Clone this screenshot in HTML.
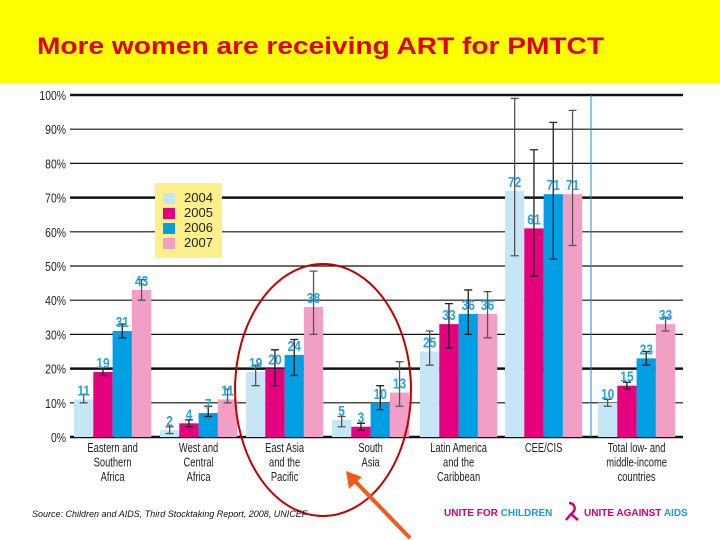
<!DOCTYPE html>
<html><head><meta charset="utf-8"><style>
html,body{margin:0;padding:0;background:#fff}
svg{display:block}
text{font-family:"Liberation Sans",Arial,sans-serif}
</style></head><body>
<svg id="chart" width="720" height="540" viewBox="0 0 720 540" xmlns="http://www.w3.org/2000/svg">
<rect x="0" y="0" width="720" height="83" fill="#ffff00"/>
<text x="37" y="54" font-size="24" font-weight="bold" fill="#e00000" textLength="567" lengthAdjust="spacingAndGlyphs">More women are receiving ART for PMTCT</text>
<g id="grid"></g>
<g id="bars"></g>
<g id="labels"></g>
<line x1="591" y1="95" x2="591" y2="437" stroke="#1a8fc8" stroke-width="1"/>
<g>
<rect x="155" y="183" width="67" height="75" fill="#fdf08a"/>
<rect x="163" y="193" width="12" height="11" fill="#c6e6f5"/>
<text x="184" y="202" font-size="13" fill="#222">2004</text>
<rect x="163" y="208" width="12" height="11" fill="#e5007d"/>
<text x="184" y="217" font-size="13" fill="#222">2005</text>
<rect x="163" y="223" width="12" height="11" fill="#009fe3"/>
<text x="184" y="232" font-size="13" fill="#222">2006</text>
<rect x="163" y="238" width="12" height="11" fill="#f29fc5"/>
<text x="184" y="247" font-size="13" fill="#222">2007</text>
</g>
<ellipse cx="323" cy="390" rx="88" ry="126" fill="none" stroke="#c00000" stroke-width="2"/>
<g>
<line x1="410" y1="538" x2="352" y2="478" stroke="#f05a1a" stroke-width="4"/>
<polygon points="346,471 349,489 362,477" fill="#f05a1a"/>
</g>
<text x="32" y="517" font-size="9" font-style="italic" fill="#111">Source: Children and AIDS, Third Stocktaking Report, 2008, UNICEF</text>
<text x="444" y="516" font-size="10" font-weight="bold" fill="#d0006f">UNITE FOR <tspan fill="#1a9ad6">CHILDREN</tspan></text>
<path d="M569,503 C575,503 577,510 571,514 L566,520 M571,514 L578,520" stroke="#d0006f" stroke-width="2.5" fill="none"/>
<text x="584" y="516" font-size="10" font-weight="bold" fill="#d0006f">UNITE AGAINST <tspan fill="#1a9ad6">AIDS</tspan></text>
</svg>
<script>
const categories = [["Eastern and","Southern","Africa"],["West and","Central","Africa"],["East Asia","and the","Pacific"],["South","Asia"],["Latin America","and the","Caribbean"],["CEE/CIS"],["Total low- and","middle-income","countries"]];
const years = ["2004","2005","2006","2007"];
const v2004 = [11,2,19,5,25,72,10];
const v2005 = [19,4,20,3,33,61,15];
const v2006 = [31,7,24,10,36,71,23];
const v2007 = [43,11,38,13,36,71,33];
const lo2004 = [10,1,15,3,21,53,9];
const hi2004 = [12.5,3,21,6,31,99,11];
const lo2005 = [18,3,15,2,26,47,14];
const hi2005 = [20,5,25.5,4,39,84,16];
const lo2006 = [29,6,18,8,30,52,21];
const hi2006 = [33,9,28.5,15,43,92,25];
const lo2007 = [40,10,30,9,29,56,31];
const hi2007 = [46,14,48.5,22,42.5,95.5,35];
const yTicks = [0,10,20,30,40,50,60,70,80,90,100];
const thickTicks = [0,20,70,100];

const NS="http://www.w3.org/2000/svg";
const colors=["#c6e6f5","#e5007d","#009fe3","#f29fc5"];
const vals=[v2004,v2005,v2006,v2007], los=[lo2004,lo2005,lo2006,lo2007], his=[hi2004,hi2005,hi2006,hi2007];
const y=v=>437-v*3.42;
const gx=[74,160,246,332,420,505,598];
const bw=19.3;
function mk(tag,attrs,parent){const e=document.createElementNS(NS,tag);for(const k in attrs)e.setAttribute(k,attrs[k]);parent.appendChild(e);return e;}
const grid=document.getElementById('grid'),bars=document.getElementById('bars'),labels=document.getElementById('labels');
yTicks.forEach(t=>{
  const l=mk('line',{x1:70,x2:683,y1:y(t),y2:y(t),stroke:'#111','stroke-width':thickTicks.includes(t)?2.5:1.2},grid);
  
  
  const tx=mk('text',{x:0,y:0,'font-size':13,'text-anchor':'end',fill:'#222',transform:`translate(66,${y(t)+5}) scale(0.8,1)`},grid);
  tx.textContent=t+'%';
  
  
});
categories.forEach((c,i)=>{
  for(let s=0;s<4;s++){
    const v=vals[s][i], x=gx[i]+s*bw;
    const r=mk('rect',{x:x,y:y(v),width:bw,height:y(0)-y(v),fill:colors[s]},bars);
    
    
    const cx=x+bw/2;
    const ec=(s==0||s==3)?'#555':'#222';
    const eb=mk('path',{d:`M${cx},${y(los[s][i])}V${y(his[s][i])}M${cx-4},${y(los[s][i])}h8M${cx-4},${y(his[s][i])}h8`,stroke:ec,'stroke-width':1.3,fill:'none'},bars);
    
    
    const lt=mk('text',{x:0,y:0,'font-size':15,'font-weight':'bold','text-anchor':'middle',fill:'#2aa3dc',transform:`translate(${cx},${y(v)-4}) scale(0.8,1)`},labels);
    lt.textContent=v;
    
    
  }
  const cxg=gx[i]+2*bw;
  c.forEach((line,k)=>{
    const t=mk('text',{x:0,y:0,'font-size':13,'text-anchor':'middle',fill:'#222',transform:`translate(${cxg},${452+k*14.5}) scale(0.72,1)`},labels);
    t.textContent=line;
    
    
  });
});
</script>
</body></html>
